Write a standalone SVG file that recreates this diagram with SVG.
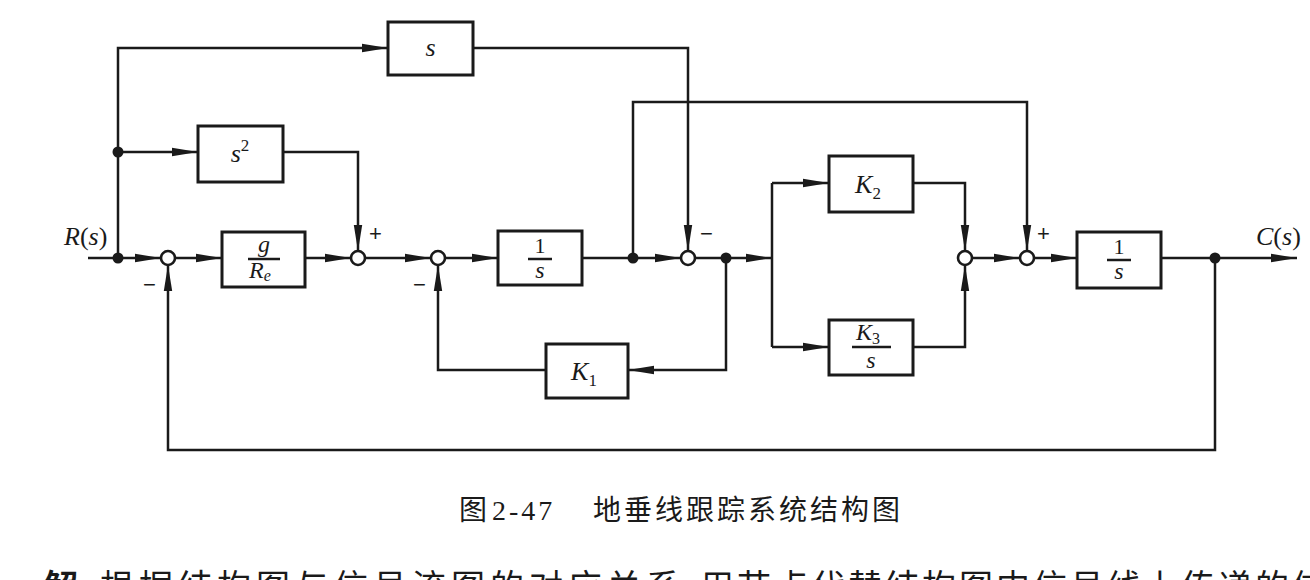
<svg xmlns="http://www.w3.org/2000/svg" width="1310" height="580" viewBox="0 0 1310 580">
<style>
.ln{fill:none;stroke:#1a1a1a;stroke-width:2.5;}
.bx{fill:#fff;stroke:#1a1a1a;stroke-width:3;}
.sj{fill:#fff;stroke:#1a1a1a;stroke-width:2.6;}
.dt{fill:#1a1a1a;}
.t{font-family:"Liberation Serif","Times New Roman",serif;fill:#1a1a1a;}
.it{font-style:italic;}
.m{font-size:26px;}
.f{font-size:24px;}
.sg{font-family:"Liberation Sans",sans-serif;font-size:22px;fill:#1a1a1a;}
.cap{font-family:"Liberation Serif","Noto Sans CJK SC",serif;fill:#1a1a1a;}
</style>
<defs>
<marker id="ah" markerWidth="26" markerHeight="10" refX="26" refY="5" orient="auto" markerUnits="userSpaceOnUse">
<path d="M0,0.8 L26,5 L0,9.2 z" fill="#1a1a1a"/>
</marker>
</defs>
<rect width="1310" height="580" fill="#fff"/>

<g id="connectors">
<path class="ln" d="M88,258 H118"/>
<path class="ln" d="M118,258 H161" marker-end="url(#ah)"/>
<path class="ln" d="M118,258 V48 H388" marker-end="url(#ah)"/>
<path class="ln" d="M118,152 H198" marker-end="url(#ah)"/>
<path class="ln" d="M283,152 H358 V251" marker-end="url(#ah)"/>
<path class="ln" d="M175,258 H222" marker-end="url(#ah)"/>
<path class="ln" d="M305,258 H351" marker-end="url(#ah)"/>
<path class="ln" d="M365,258 H431" marker-end="url(#ah)"/>
<path class="ln" d="M445,258 H498" marker-end="url(#ah)"/>
<path class="ln" d="M582,258 H681" marker-end="url(#ah)"/>
<path class="ln" d="M473,48 H688 V251" marker-end="url(#ah)"/>
<path class="ln" d="M633,258 V102 H1027 V251" marker-end="url(#ah)"/>
<path class="ln" d="M695,258 H772" marker-end="url(#ah)"/>
<path class="ln" d="M726,258 V370 H628" marker-end="url(#ah)"/>
<path class="ln" d="M546,370 H438 V265" marker-end="url(#ah)"/>
<path class="ln" d="M772,183 V347"/>
<path class="ln" d="M772,183 H829" marker-end="url(#ah)"/>
<path class="ln" d="M772,347 H829" marker-end="url(#ah)"/>
<path class="ln" d="M913,183 H965 V251" marker-end="url(#ah)"/>
<path class="ln" d="M913,347 H965 V265" marker-end="url(#ah)"/>
<path class="ln" d="M972,258 H1020" marker-end="url(#ah)"/>
<path class="ln" d="M1034,258 H1077" marker-end="url(#ah)"/>
<path class="ln" d="M1161,258 H1297" marker-end="url(#ah)"/>
<path class="ln" d="M1215,258 V450 H168 V265" marker-end="url(#ah)"/>
<circle class="dt" cx="118" cy="258" r="5.5"/>
<circle class="dt" cx="118" cy="152" r="5.5"/>
<circle class="dt" cx="633" cy="258" r="5.5"/>
<circle class="dt" cx="726" cy="258" r="5.5"/>
<circle class="dt" cx="1215" cy="258" r="5.5"/>
</g>

<g id="input-label"><text class="t m" x="64" y="245"><tspan class="it">R</tspan>(<tspan class="it">s</tspan>)</text></g>
<g id="output-label"><text class="t m" x="1256" y="245"><tspan class="it">C</tspan>(<tspan class="it">s</tspan>)</text></g>

<g id="sum1"><circle class="sj" cx="168" cy="258" r="7"/><text class="sg" x="143" y="292">−</text></g>
<g id="sum2"><circle class="sj" cx="358" cy="258" r="7"/><text class="sg" x="369" y="241">+</text></g>
<g id="sum3"><circle class="sj" cx="438" cy="258" r="7"/><text class="sg" x="413" y="292">−</text></g>
<g id="sum4"><circle class="sj" cx="688" cy="258" r="7"/><text class="sg" x="700" y="241">−</text></g>
<g id="sum5"><circle class="sj" cx="965" cy="258" r="7"/></g>
<g id="sum6"><circle class="sj" cx="1027" cy="258" r="7"/><text class="sg" x="1037" y="241">+</text></g>

<g id="box-s"><rect class="bx" x="388" y="22" width="85" height="53"/><text class="t m it" x="430.5" y="56" text-anchor="middle">s</text></g>
<g id="box-s2"><rect class="bx" x="198" y="126" width="85" height="56"/><text class="t m" x="240" y="162" text-anchor="middle"><tspan class="it">s</tspan><tspan font-size="17" dy="-11">2</tspan></text></g>
<g id="box-g-re"><rect class="bx" x="222" y="232" width="83" height="55"/><text class="t f it" x="264" y="252" text-anchor="middle">g</text><path class="ln" d="M248,259 H280" stroke-width="1.5"/><text class="t f" x="260" y="278" text-anchor="middle"><tspan class="it">R</tspan><tspan class="it" font-size="16" dy="3">e</tspan></text></g>
<g id="box-int1"><rect class="bx" x="498" y="231" width="84" height="54"/><text class="t" x="540" y="253" text-anchor="middle" font-size="22">1</text><path class="ln" d="M528,259 H552" stroke-width="1.5"/><text class="t f it" x="540" y="278" text-anchor="middle">s</text></g>
<g id="box-k1"><rect class="bx" x="546" y="344" width="82" height="54"/><text class="t m" x="584" y="380" text-anchor="middle"><tspan class="it">K</tspan><tspan font-size="17" dy="6">1</tspan></text></g>
<g id="box-k2"><rect class="bx" x="829" y="156" width="84" height="56"/><text class="t m" x="868" y="193" text-anchor="middle"><tspan class="it">K</tspan><tspan font-size="17" dy="6">2</tspan></text></g>
<g id="box-k3s"><rect class="bx" x="829" y="320" width="84" height="55"/><text class="t f" x="868" y="340" text-anchor="middle"><tspan class="it">K</tspan><tspan font-size="16" dy="4">3</tspan></text><path class="ln" d="M852,347 H891" stroke-width="1.5"/><text class="t f it" x="871" y="368" text-anchor="middle">s</text></g>
<g id="box-int2"><rect class="bx" x="1077" y="232" width="84" height="56"/><text class="t" x="1119" y="254" text-anchor="middle" font-size="22">1</text><path class="ln" d="M1107,260 H1131" stroke-width="1.5"/><text class="t f it" x="1119" y="279" text-anchor="middle">s</text></g>

<g id="caption">
<text class="cap" x="459" y="520" font-size="28">图</text>
<text class="cap" x="492" y="520" font-size="28" letter-spacing="3">2-47</text>
<text class="cap" x="593" y="520" font-size="28" letter-spacing="3">地垂线跟踪系统结构图</text>
</g>
<g id="bottom-text">
<text class="cap" x="44" y="599" font-size="34" font-weight="bold">解</text>
<text class="cap" x="100" y="599" font-size="34" letter-spacing="5">根据结构图与信号流图的对应关系，</text>
<text class="cap" x="700" y="599" font-size="34" letter-spacing="3">用节点代替结构图中信号线上传递的信号</text>
</g>
</svg>
